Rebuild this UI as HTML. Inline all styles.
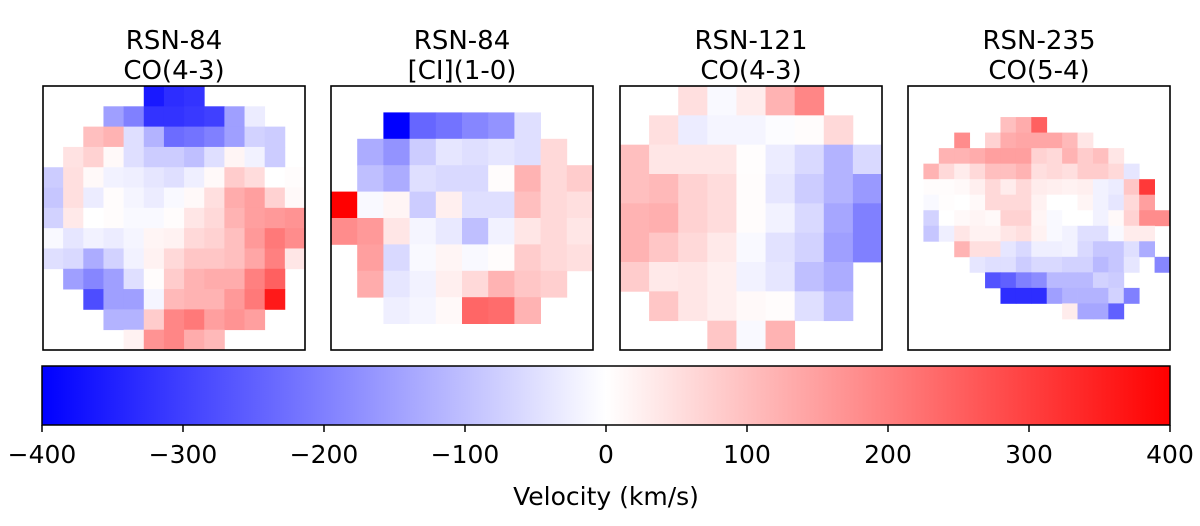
<!DOCTYPE html>
<html><head><meta charset="utf-8"><style>
body{margin:0;background:#fff;}
svg text{font-family:"DejaVu Sans","Liberation Sans",sans-serif;fill:#000;}
</style></head><body>
<svg id="chart" width="1200" height="521" xmlns="http://www.w3.org/2000/svg">
<defs><linearGradient id="bwr" x1="0" x2="1" y1="0" y2="0">
<stop offset="0" stop-color="#0000ff"/><stop offset="0.5" stop-color="#ffffff"/><stop offset="1" stop-color="#ff0000"/></linearGradient></defs>
<g id="panels"></g>
<rect x="42" y="366" width="1128" height="59" fill="url(#bwr)" stroke="#000" stroke-width="1.5"/>
<g id="cbticks"></g>
<text x="606" y="505" font-size="25" text-anchor="middle">Velocity (km/s)</text>
</svg>
<script>
const N=null;
const titles1=["RSN-84","RSN-84","RSN-121","RSN-235"];
const titles2=["CO(4-3)","[CI](1-0)","CO(4-3)","CO(5-4)"];
const panelLeft=[43,331,620,908];
const cbTicks=[-400,-300,-200,-100,0,100,200,300,400];
const vmin=-400, vmax=400;
const map1=[
[N,N,N,N,N,-360,-330,-320,N,N,N,N,N],
[N,N,N,-150,-200,-320,-320,-310,-300,-150,-30,N,N],
[N,N,100,120,-50,-120,-230,-220,-200,-150,-70,-80,N],
[N,45,70,10,-50,-80,-80,-100,-50,15,-20,-80,N],
[-80,50,10,-20,-25,-40,-50,-25,10,80,55,0,5],
[-90,50,-30,5,-15,-30,-10,10,50,130,150,70,10],
[-70,35,0,5,-10,-10,5,40,60,120,150,160,170],
[-10,-40,-20,-30,-15,15,20,60,70,100,160,210,180],
[-50,-60,-130,-70,-20,20,60,90,90,100,140,200,40],
[N,-150,-190,-150,-50,5,80,120,130,130,200,250,N],
[N,N,-280,-150,-150,-15,110,120,120,160,210,360,N],
[N,N,N,-120,-120,80,190,210,150,170,150,N,N],
[N,N,N,N,20,170,190,130,110,N,N,N,N]];
const map2=[
[N,N,N,N,N,N,N,N,N,N],
[N,N,-400,-240,-220,-190,-170,-50,N,N],
[N,-130,-170,-80,-40,-50,-40,-50,60,N],
[N,-100,-130,-50,-60,-60,5,120,60,80],
[400,-10,15,-80,25,-50,-50,100,60,50],
[180,160,40,-15,-35,-100,-20,40,60,40],
[N,150,-60,-10,15,-10,5,80,60,50],
[N,130,-40,-20,25,60,120,90,75,N],
[N,N,-25,-15,10,240,230,120,N,N],
[N,N,N,N,N,N,N,N,N,N]];
const map3=[
[N,N,50,-10,30,120,190,N,N],
[N,50,-30,-15,-15,-5,5,60,N],
[100,40,40,40,3,-30,-60,-120,-60],
[100,110,70,55,5,-40,-80,-120,-160],
[120,125,70,55,5,-20,-60,-140,-200],
[120,90,60,35,-10,-45,-70,-150,-200],
[80,35,40,25,-20,-40,-100,-130,N],
[N,90,40,25,10,5,-50,-100,N],
[N,N,N,90,-10,120,N,N,N]];
const map4=[
[N,N,N,N,N,N,N,N,N,N,N,N,N,N,N,N,N],
[N,N,N,N,N,N,N,N,N,N,N,N,N,N,N,N,N],
[N,N,N,N,N,N,100,130,250,N,N,N,N,N,N,N,N],
[N,N,N,180,N,70,130,140,140,140,110,40,N,N,N,N,N],
[N,N,120,120,130,150,150,150,70,60,120,80,100,40,N,N,N],
[N,120,60,30,60,100,100,120,50,60,50,80,80,60,-40,N,N],
[N,5,5,10,25,60,30,60,30,25,20,25,-20,-30,90,310,N],
[N,-10,3,0,10,60,60,60,20,0,0,15,-20,-40,60,150,N],
[N,-70,0,10,15,10,70,70,15,-10,0,0,-20,10,70,180,180],
[N,-90,-25,40,20,20,40,50,20,-10,-20,-50,-50,-10,30,30,N],
[N,N,N,120,50,50,-40,-60,-25,-25,-20,-60,-90,-90,-50,-130,N],
[N,N,N,N,-40,-50,-50,-80,-60,-60,-70,-70,-110,-90,-40,N,-190],
[N,N,N,N,N,-270,-250,-200,-180,-110,-110,-110,-70,-80,N,N,N],
[N,N,N,N,N,N,-330,-330,-330,-150,-120,-120,-120,-70,-200,N,N],
[N,N,N,N,N,N,N,N,N,N,30,-140,-140,-250,N,N,N],
[N,N,N,N,N,N,N,N,N,N,N,N,N,N,N,N,N],
[N,N,N,N,N,N,N,N,N,N,N,N,N,N,N,N,N]];
const maps=[map1,map2,map3,map4];
const NS="http://www.w3.org/2000/svg";
const PW=262, PT=86, PH=264;
function bwr(v){let t=Math.max(-1,Math.min(1,v/vmax));
 let r,g,b; if(t<0){r=g=Math.round(255*(1+t));b=255;}else{r=255;g=b=Math.round(255*(1-t));}
 return `rgb(${r},${g},${b})`;}
const panels=document.getElementById('panels');
maps.forEach((m,p)=>{
 const g=document.createElementNS(NS,'g');
 
 
 const x0=panelLeft[p], rows=m.length, cols=m[0].length;
 const cw=PW/cols, ch=PH/rows;
 m.forEach((row,i)=>row.forEach((v,j)=>{ if(v===null)return;
  const r=document.createElementNS(NS,'rect');
  
  
  r.setAttribute('x',x0+j*cw);r.setAttribute('y',PT+i*ch);
  r.setAttribute('width',cw+0.4);r.setAttribute('height',ch+0.4);
  r.setAttribute('fill',bwr(v));g.appendChild(r);}));
 const f=document.createElementNS(NS,'rect');
 
 
 f.setAttribute('x',x0);f.setAttribute('y',PT);f.setAttribute('width',PW);f.setAttribute('height',PH);
 f.setAttribute('fill','none');f.setAttribute('stroke','#000');f.setAttribute('stroke-width','1.6');
 g.appendChild(f);
 [titles1[p],titles2[p]].forEach((t,k)=>{
  const tx=document.createElementNS(NS,'text');
  
  
  tx.setAttribute('x',x0+PW/2);tx.setAttribute('y',k?79:49);
  tx.setAttribute('font-size','26');tx.setAttribute('text-anchor','middle');
  tx.textContent=t;g.appendChild(tx);});
 panels.appendChild(g);
});
const cb=document.getElementById('cbticks');
const cbx=v=>42+(v-vmin)/(vmax-vmin)*1128;
cbTicks.forEach(v=>{
 const l=document.createElementNS(NS,'line');
 
 
 l.setAttribute('x1',cbx(v));l.setAttribute('x2',cbx(v));l.setAttribute('y1',425);l.setAttribute('y2',432);
 l.setAttribute('stroke','#000');l.setAttribute('stroke-width','1.5');cb.appendChild(l);
 const t=document.createElementNS(NS,'text');
 
 
 t.setAttribute('x',cbx(v));t.setAttribute('y',463);t.setAttribute('font-size','25');t.setAttribute('text-anchor','middle');
 t.textContent=v<0?'\u2212'+Math.abs(v):String(v);cb.appendChild(t);
});
</script>
</body></html>
